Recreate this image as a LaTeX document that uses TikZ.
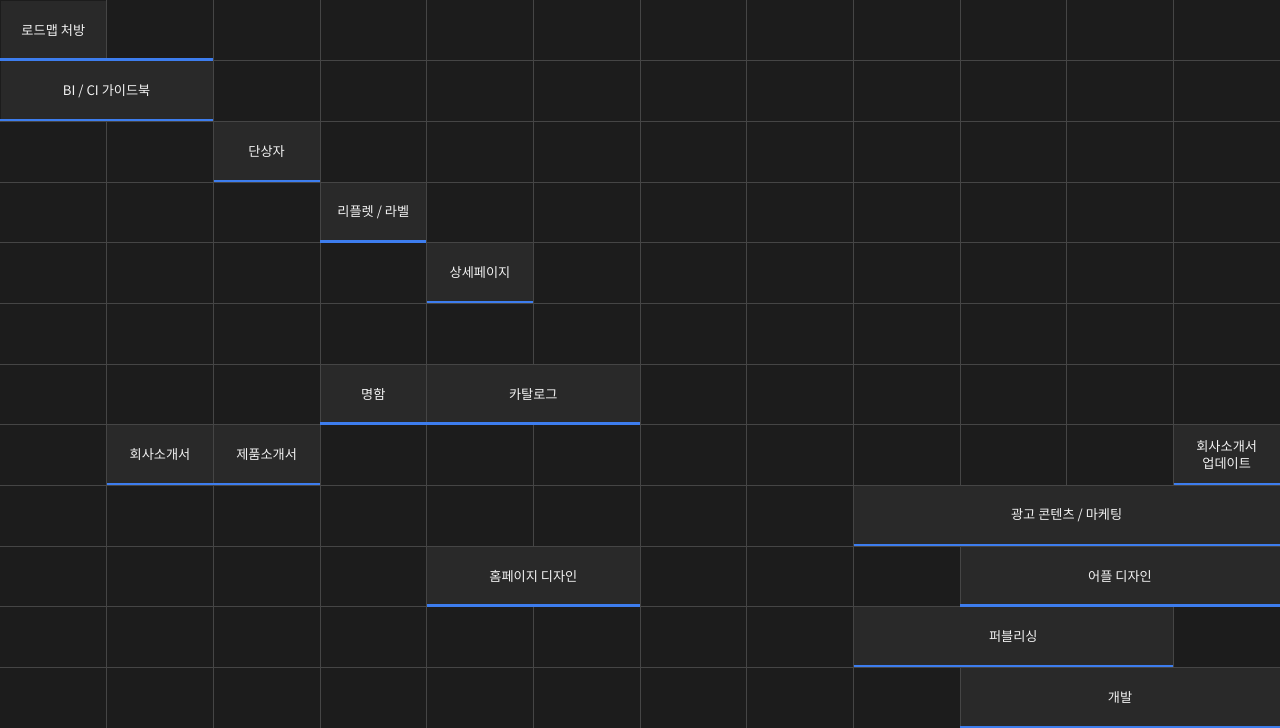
\documentclass[tikz,border=0pt]{standalone}
\usepackage{fontspec}
\setmainfont{Noto Sans CJK KR}
\definecolor{bgc}{HTML}{1C1C1C}
\definecolor{barc}{HTML}{292929}
\definecolor{gridc}{HTML}{454545}
\definecolor{bluec}{HTML}{3D7DEE}
\definecolor{txtc}{HTML}{F2F2F2}
\newcommand\gb[5]{\node[gbar, minimum width={(#3-#2)*106.6667pt-1pt}] (#1) at ({(#2+#3)/2*106.6667},{(#4+0.5)*60.6667}) {#5};}
\begin{document}
\begin{tikzpicture}[x=1pt,y=-1pt,
  gbar/.style={fill=barc, inner sep=0pt, text=txtc, minimum height=59.6667pt,
    font=\fontsize{13.2}{17}\selectfont, align=center},
  gridl/.style={draw=gridc, line width=1pt},
  blu/.style={draw=bluec, line width=2.5pt}]
\fill[bgc] (0,0) rectangle (1280,728);
\useasboundingbox (0,0) rectangle (1280,728);
\foreach \i in {1,...,11} {
  \draw[gridl] ({\i*1280/12},0) -- ({\i*1280/12},728);
  \draw[gridl] (0,{\i*728/12}) -- (1280,{\i*728/12});
}
\gb{rd}{0}{1}{0}{로드맵 처방}
\gb{bi}{0}{2}{1}{BI / CI 가이드북}
\gb{ds}{2}{3}{2}{단상자}
\gb{lf}{3}{4}{3}{리플렛 / 라벨}
\gb{sp}{4}{5}{4}{상세페이지}
\gb{mh}{3}{4}{6}{명함}
\gb{ct}{4}{6}{6}{카탈로그}
\gb{hs}{1}{2}{7}{회사소개서}
\gb{js}{2}{3}{7}{제품소개서}
\gb{hu}{11}{12}{7}{회사소개서\\업데이트}
\gb{ad}{8}{12}{8}{광고 콘텐츠 / 마케팅}
\gb{hp}{4}{6}{9}{홈페이지 디자인}
\gb{ap}{9}{12}{9}{어플 디자인}
\gb{pb}{8}{11}{10}{퍼블리싱}
\gb{dv}{9}{12}{11}{개발}
\coordinate (rdend) at ({2*106.6667},0);
\draw[blu] ([yshift=0.8pt]rd.south west) -- ([yshift=0.8pt]rd.south west -| rdend);
\foreach \a/\b in {bi/bi,ds/ds,lf/lf,sp/sp,mh/ct,hs/js,hu/hu,ad/ad,hp/hp,ap/ap,pb/pb,dv/dv}
  \draw[blu] ([yshift=0.8pt]\a.south west) -- ([yshift=0.8pt]\b.south east);
\end{tikzpicture}
\end{document}
